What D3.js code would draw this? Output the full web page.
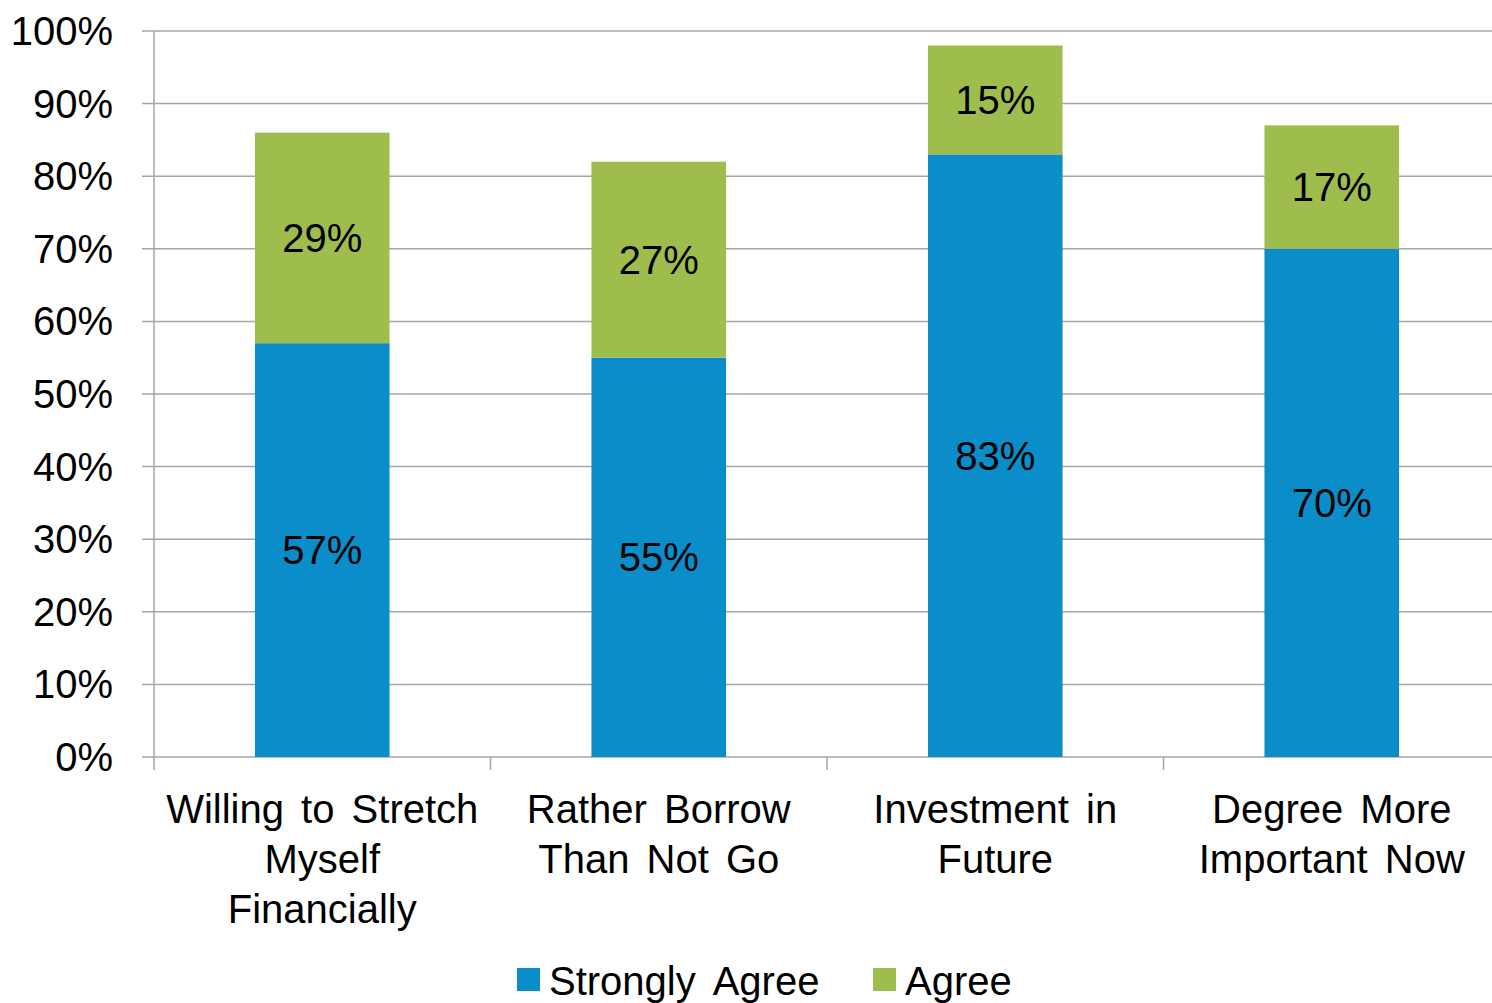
<!DOCTYPE html>
<html>
<head>
<meta charset="utf-8">
<script src="https://cdn.jsdelivr.net/npm/d3@7"></script>
<style>
  body { margin: 0; background: #fff; }
  text { font-family: "Liberation Sans", Arial, sans-serif; fill: #000; }
</style>
</head>
<body>
<div id="chart"></div>
<script>
const categories = [
  ["Willing to Stretch", "Myself", "Financially"],
  ["Rather Borrow", "Than Not Go"],
  ["Investment in", "Future"],
  ["Degree More", "Important Now"]
];
const seriesNames = ["Strongly Agree", "Agree"];
const stronglyAgree = [57, 55, 83, 70];
const agree = [29, 27, 15, 17];
const yTicks = [0, 10, 20, 30, 40, 50, 60, 70, 80, 90, 100];
const colors = ["#0a8dc8", "#9fbd4c"];

const width = 1492, height = 1003;
const margin = {top: 31, right: -8, bottom: 246, left: 154};
const fontSize = 40;

const svg = d3.select("#chart").append("svg")
  .attr("width", width)
  .attr("height", height);

const rows = stronglyAgree.map((v, i) => ({idx: i, s: v, a: agree[i]}));
const stack = d3.stack().keys(["s", "a"])(rows);

const x = d3.scaleBand()
  .domain(d3.range(categories.length))
  .range([margin.left, width - margin.right])
  .paddingInner(0.6)
  .paddingOuter(0.3);

const y = d3.scaleLinear()
  .domain([0, 100])
  .range([height - margin.bottom, margin.top]);

const gridColor = "#a6a6a6";

// gridlines + left ticks
svg.append("g")
  .selectAll("line")
  .data(yTicks)
  .join("line")
    .attr("x1", margin.left - 12)
    .attr("x2", width)
    .attr("y1", d => y(d))
    .attr("y2", d => y(d))
    .attr("stroke", gridColor)
    .attr("stroke-width", 1.5);

// y tick labels
svg.append("g")
  .selectAll("text")
  .data(yTicks)
  .join("text")
    .attr("x", 113)
    .attr("y", d => y(d) + 14)
    .attr("text-anchor", "end")
    .attr("font-size", fontSize)
    .text(d => d + "%");

// bars
svg.append("g")
  .selectAll("g")
  .data(stack)
  .join("g")
    .attr("fill", (d, i) => colors[i])
  .selectAll("rect")
  .data(d => d)
  .join("rect")
    .attr("x", d => x(d.data.idx))
    .attr("y", d => y(d[1]))
    .attr("width", x.bandwidth())
    .attr("height", d => y(d[0]) - y(d[1]));

// value labels
svg.append("g")
  .selectAll("g")
  .data(stack)
  .join("g")
  .selectAll("text")
  .data(d => d)
  .join("text")
    .attr("x", d => x(d.data.idx) + x.bandwidth() / 2)
    .attr("y", d => (y(d[0]) + y(d[1])) / 2 + 14)
    .attr("text-anchor", "middle")
    .attr("font-size", fontSize)
    .text(d => (d[1] - d[0]) + "%");

// axes lines
const step = x.step();
const x0 = margin.left;
svg.append("line")
  .attr("x1", x0).attr("x2", x0)
  .attr("y1", y(100)).attr("y2", y(0) + 13)
  .attr("stroke", gridColor).attr("stroke-width", 1.5);

svg.append("g")
  .selectAll("line")
  .data(d3.range(1, categories.length))
  .join("line")
    .attr("x1", i => x0 + i * step)
    .attr("x2", i => x0 + i * step)
    .attr("y1", y(0))
    .attr("y2", y(0) + 13)
    .attr("stroke", gridColor)
    .attr("stroke-width", 1.5);

// category labels
svg.append("g")
  .selectAll("text")
  .data(categories)
  .join("text")
    .attr("text-anchor", "middle")
    .attr("font-size", fontSize)
    .attr("word-spacing", 6)
    .attr("transform", (d, i) => `translate(${x(i) + x.bandwidth() / 2},823)`)
  .selectAll("tspan")
  .data(d => d)
  .join("tspan")
    .attr("x", 0)
    .attr("y", (d, j) => j * 50)
    .text(d => d);

// legend
const legendX = [517, 873];
const legend = svg.append("g")
  .selectAll("g")
  .data(seriesNames)
  .join("g")
    .attr("transform", (d, i) => `translate(${legendX[i]},968)`);
legend.append("rect")
  .attr("width", 23).attr("height", 23)
  .attr("fill", (d, i) => colors[i]);
legend.append("text")
  .attr("x", 32)
  .attr("y", 27)
  .attr("font-size", fontSize)
  .attr("word-spacing", 8)
  .text(d => d);
</script>
</body>
</html>
